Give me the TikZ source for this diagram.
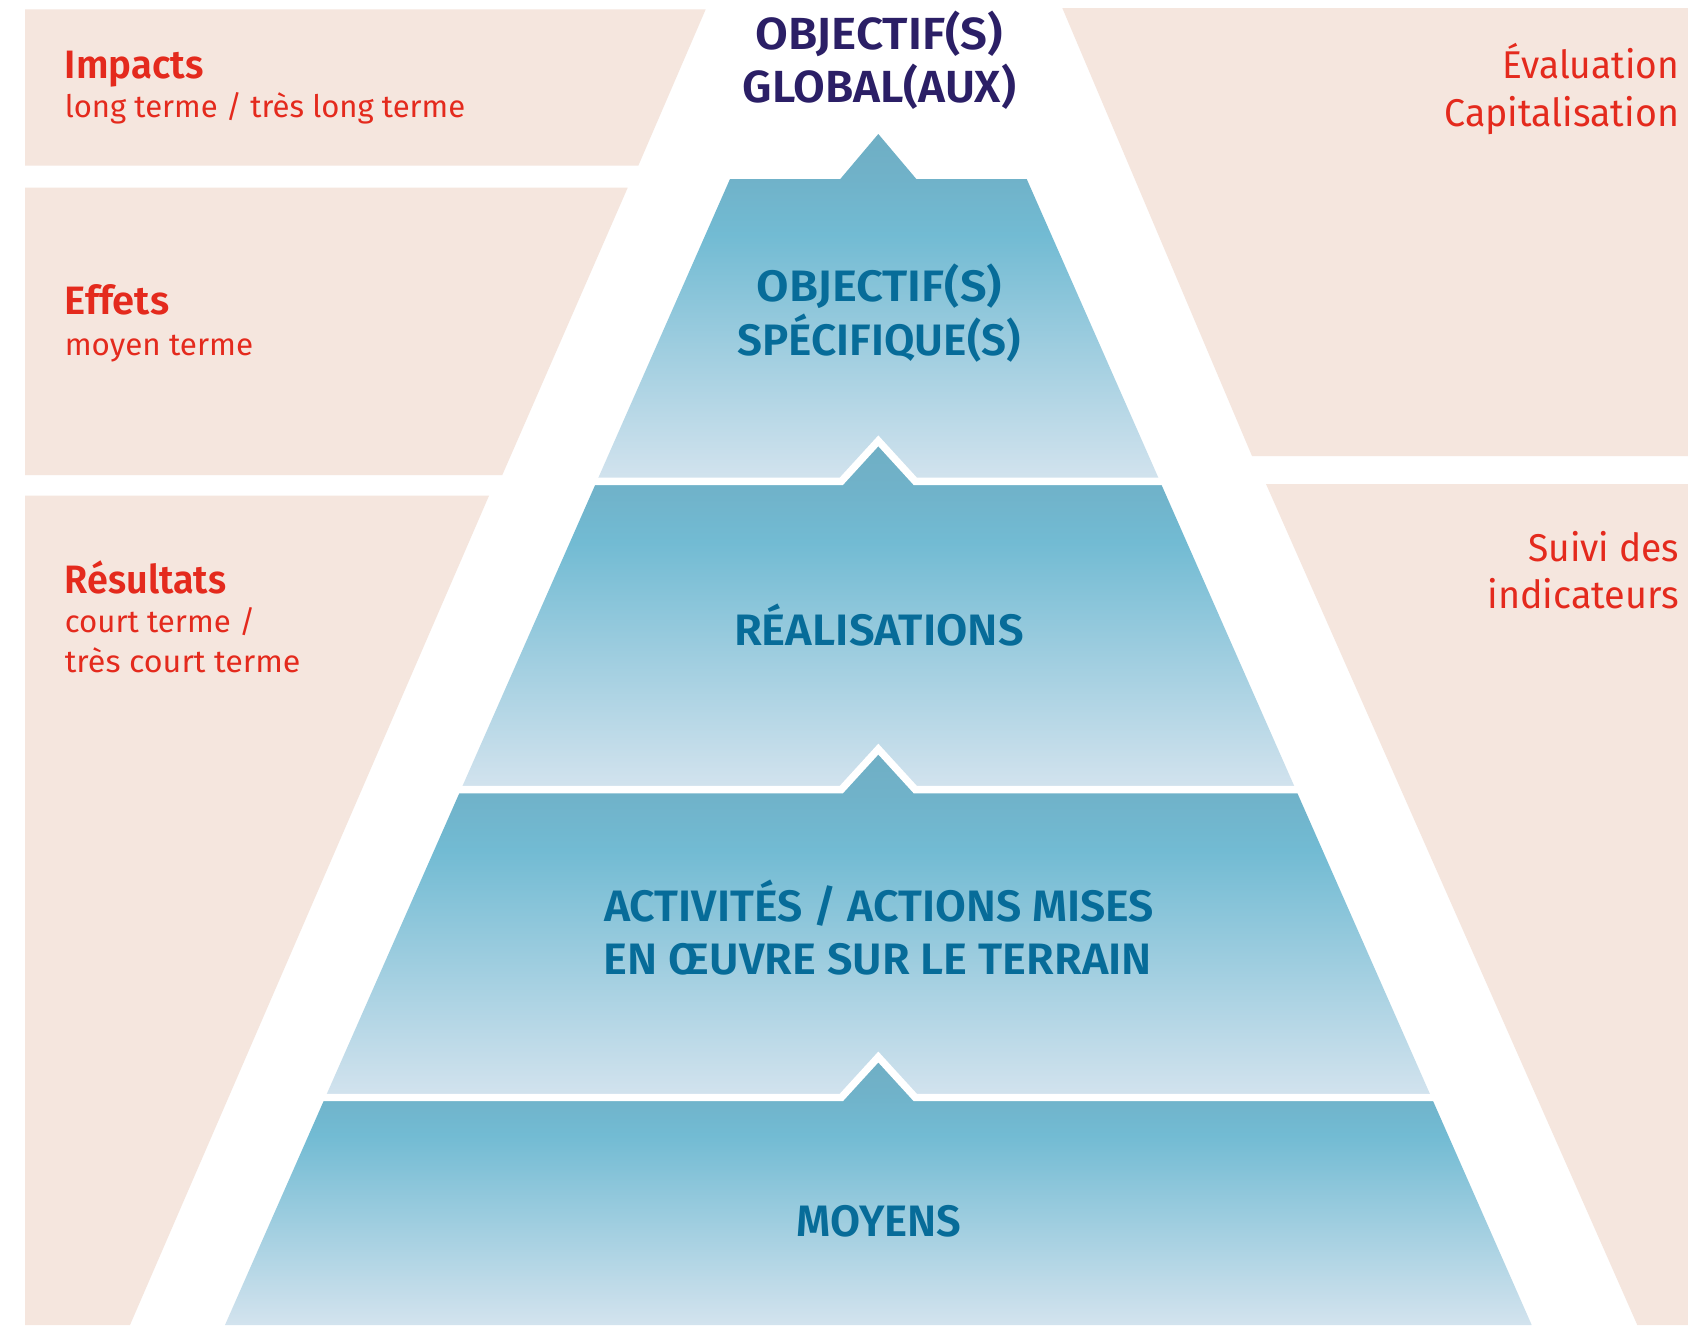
\documentclass[tikz,border=0pt]{standalone}
\usepackage{fontspec}
\setmainfont{Fira Sans}[BoldFont={Fira Sans SemiBold}]
\usepackage{graphicx}
\definecolor{pinkbg}{HTML}{F5E6DE}
\definecolor{redtxt}{HTML}{E42A1D}
\definecolor{purptxt}{HTML}{2B1F66}
\definecolor{bluetxt}{HTML}{076C99}
\definecolor{lbot}{HTML}{D3E3EE}
\definecolor{lmid}{HTML}{72BBD3}
\definecolor{ltopa}{HTML}{70B2C9}
\definecolor{ltopb}{HTML}{6FAEC4}
\pgfdeclareverticalshading{layershade}{100bp}{color(0bp)=(lbot); color(25bp)=(lbot); color(60.5bp)=(lmid); color(68.5bp)=(ltopa); color(75bp)=(ltopb); color(100bp)=(ltopb)}
\newlength\fitlen
\newcommand\fitw[2]{\settowidth\fitlen{#2}\pgfmathsetmacro\fitratio{#1/\fitlen}\scalebox{\fitratio}[1]{#2}}
\tikzset{
  pinkbox/.style={fill=pinkbg, draw=none},
  layer/.style={shading=layershade, draw=none},
  gapline/.style={draw=white, line width=7.3pt},
  redtitle/.style={font=\bfseries\fontsize{39.6}{44}\selectfont, text=redtxt, inner sep=0pt, anchor=base west},
  redsub/.style={font=\fontsize{31}{36}\selectfont, text=redtxt, inner sep=0pt, anchor=base west},
  redright/.style={font=\fontsize{38.7}{44}\selectfont, text=redtxt, inner sep=0pt, anchor=base east},
  pyrtext/.style={font=\bfseries\fontsize{44}{50}\selectfont, text=bluetxt, inner sep=0pt, anchor=base},
  toptext/.style={font=\bfseries\fontsize{45}{50}\selectfont, text=purptxt, inner sep=0pt, anchor=base},
}
\begin{document}
\begin{tikzpicture}[x=1pt,y=-1pt]
\useasboundingbox[fill=white] (0,0) rectangle (1688,1325);
% pink side panels
\fill[pinkbox] (25,9.3) -- (705.7,9.3) -- (638.3,165.7) -- (25,165.7) -- cycle;
\fill[pinkbox] (25,187.7) -- (627.7,187.7) -- (502.3,475) -- (25,475) -- cycle;
\fill[pinkbox] (25,495.7) -- (489,495.7) -- (130,1325) -- (25,1325) -- cycle;
\fill[pinkbox] (1062.3,8) -- (1688,8) -- (1688,456) -- (1252,456) -- cycle;
\fill[pinkbox] (1266,484) -- (1688,484) -- (1688,1325) -- (1637.3,1325) -- cycle;
% pyramid layers
\shade[layer] (730,179) -- (840.3,179) -- (878.3,134) -- (916.3,179) -- (1026.7,179) -- (1159.95,481.35) -- (596.75,481.35) -- cycle;
\shade[layer] (596.75,481.35) -- (841.3,481.35) -- (878.3,440.85) -- (915.3,481.35) -- (1159.95,481.35) -- (1295.8,789.6) -- (460.9,789.6) -- cycle;
\draw[gapline] (586,481.35) -- (841.3,481.35) -- (878.3,440.85) -- (915.3,481.35) -- (1170,481.35);
\shade[layer] (460.9,789.6) -- (841.3,789.6) -- (878.3,749.1) -- (915.3,789.6) -- (1295.8,789.6) -- (1431.5,1097.5) -- (325.2,1097.5) -- cycle;
\draw[gapline] (450,789.6) -- (841.3,789.6) -- (878.3,749.1) -- (915.3,789.6) -- (1306,789.6);
\shade[layer] (325.2,1097.5) -- (841.3,1097.5) -- (878.3,1057) -- (915.3,1097.5) -- (1431.5,1097.5) -- (1531.7,1325) -- (225,1325) -- cycle;
\draw[gapline] (315,1097.5) -- (841.3,1097.5) -- (878.3,1057) -- (915.3,1097.5) -- (1441,1097.5);
% left labels
\node[redtitle] (imp) at (64.6,78.8) {\fitw{138.8}{Impacts}};
\node[redsub] (impsub) at (64.6,117.5) {\fitw{400.4}{long terme / très long terme}};
\node[redtitle] (eff) at (64.6,314.4) {\fitw{104.4}{Effets}};
\node[redsub] (effsub) at (64.6,355) {\fitw{188.4}{moyen terme}};
\node[redtitle] (res) at (64.6,593.4) {\fitw{161.5}{Résultats}};
\node[redsub] (ressub1) at (64.6,632.3) {\fitw{190.5}{court terme /}};
\node[redsub] (ressub2) at (64.6,672) {\fitw{235.7}{très court terme}};
% right labels
\node[redright] (eval) at (1679.2,78) {\fitw{176.5}{Évaluation}};
\node[redright] (capi) at (1679.2,126.8) {\fitw{234.6}{Capitalisation}};
\node[redright] (suivi) at (1679.2,561) {\fitw{150.7}{Suivi des}};
\node[redright] (indic) at (1679.2,608.6) {\fitw{191.6}{indicateurs}};
% pyramid texts
\node[toptext] (og1) at (879.4,49.5) {\fitw{247.5}{OBJECTIF(S)}};
\node[toptext] (og2) at (879.4,102.5) {\fitw{273.4}{GLOBAL(AUX)}};
\node[pyrtext] (os1) at (879.2,301.5) {\fitw{245.3}{OBJECTIF(S)}};
\node[pyrtext] (os2) at (879.2,355) {\fitw{283}{SPÉCIFIQUE(S)}};
\node[pyrtext] (real) at (878.9,645.5) {\fitw{289.6}{RÉALISATIONS}};
\node[pyrtext] (act1) at (879,921.4) {\fitw{550}{ACTIVITÉS / ACTIONS MISES}};
\node[pyrtext] (act2) at (877.9,974.6) {\fitw{548}{EN ŒUVRE SUR LE TERRAIN}};
\node[pyrtext] (moy) at (879,1236.7) {\fitw{164.7}{MOYENS}};
\end{tikzpicture}
\end{document}
